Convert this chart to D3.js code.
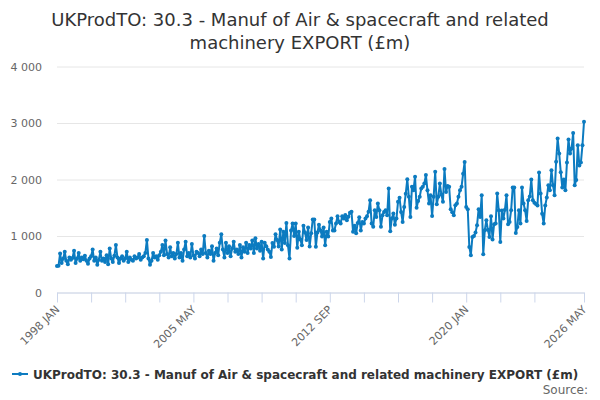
<!DOCTYPE html>
<html>
<head>
<meta charset="utf-8">
<script src="https://cdn.jsdelivr.net/npm/d3@7"></script>
<style>
  body { margin: 0; background: #fff; }
  text { font-family: "DejaVu Sans", sans-serif; }
</style>
</head>
<body>
<div id="chart"></div>
<script>
// Chart text
const titleLines = ["UKProdTO: 30.3 - Manuf of Air & spacecraft and related", "machinery EXPORT (£m)"];
const seriesName = "UKProdTO: 30.3 - Manuf of Air & spacecraft and related machinery EXPORT (£m)";

// Monthly values, 1998 JAN .. 2026 MAY (£m)
const values1998to2003 = [
    470, 475, 690, 520, 600, 720, 560, 500, 620, 580,
    610, 740, 520, 600, 700, 560, 620, 590, 650, 560,
    510, 600, 640, 760, 560, 620, 490, 580, 720, 560,
    600, 540, 660, 500, 780, 600, 540, 650, 840, 620,
    520, 600, 640, 560, 600, 720, 540, 620, 580, 560,
    640, 600, 620, 680, 580, 620, 640, 700, 930, 600,
    490, 560, 700, 620, 640, 580, 660, 720, 840, 660,
    920
];
const values2003to2006 = [
    680, 620, 800, 640, 700, 600, 680, 880, 620, 700,
    560, 760, 900, 640, 700, 620, 860, 660, 600, 720,
    700, 640, 760, 680, 1000, 700, 620, 740, 680, 820,
    560, 700, 780
];
const values2006to2009 = [
    660, 880, 1030, 760, 620, 880, 700, 820, 640, 780,
    900, 720, 760, 680, 840, 620, 800, 720, 880, 700,
    840, 780, 920, 700, 960, 780, 860, 740, 900, 600,
    880, 820, 760
];
const values2009to2014 = [
    720, 630, 878, 808, 1031, 930, 815, 1115, 760, 1074,
    878, 1232, 838, 600, 1098, 1220, 1000, 1220, 790, 1074,
    940, 838, 1180, 1062, 930, 1150, 815, 1050, 1290, 1290,
    808, 1062, 1200, 1100, 990, 1150, 838, 1074, 990, 1250,
    1310, 1098, 1098, 1220, 1350, 1250, 1220, 1350, 1310, 1370,
    1280, 1340, 1410, 1430, 1074, 1180, 1050, 1232, 1330, 1098,
    1250, 1220, 1310, 1350, 1430
];
const values2014to2019 = [
    1634, 1220, 1162, 1456, 1338, 1575, 1456, 1162, 1367, 1426,
    1456, 1367, 1840, 1085, 1308, 1397, 1200, 1308, 1604, 1675,
    1426, 1250, 1515, 1750, 2005, 1693, 1338, 1870, 1810, 2048,
    1500, 1620, 1693, 1840, 1870, 1928, 2078, 1810, 1575, 1722,
    1353, 1693, 2136, 1560, 1693, 1928, 1734, 1604, 2184, 1780,
    1887, 1870, 1474, 1420, 1367, 1545, 1575, 1693, 1810, 1870,
    2100, 2310
];
const values2020to2026 = [
    1515, 1474, 807, 660, 984, 1000, 1060, 1190, 1474, 1338,
    1722, 678, 1103, 1280, 1110, 984, 1350, 938, 1209, 1220,
    1752, 1457, 896, 1450, 1310, 1465, 1722, 1209, 1250, 1457,
    1858, 1858, 1055, 1160, 1457, 1220, 1858, 1575, 1457, 1267,
    1634, 1700, 2000, 1634, 1587, 1565, 1540, 2124, 1752, 1394,
    1220, 1540, 1680, 1900, 1810, 2165, 1900, 1722, 2312, 2725,
    2460, 2130, 1860, 2000, 1810, 2300, 2710, 2460, 2548, 2825,
    1900, 1990, 2607, 2250, 2300, 2607, 3020
];
const values = [].concat(values1998to2003, values2003to2006, values2006to2009,
    values2009to2014, values2014to2019, values2020to2026);

// Axis ticks
const yTicks = [0, 1000, 2000, 3000, 4000];
const xTickLabels = ["1998 JAN", "2005 MAY", "2012 SEP", "2020 JAN", "2026 MAY"];
const xLabelMonths = [0, 88, 176, 264, 340];
const xTickMonths = [0, 22, 44, 66, 88, 110, 132, 154, 176, 198, 220, 242, 264, 286, 308, 340];

// Canvas
const canvWidth = 600, canvHeight = 400;
const margin = {top: 66.5, right: 16, bottom: 107.5, left: 57};
const width = canvWidth - margin.left - margin.right;
const height = canvHeight - margin.top - margin.bottom;

const lineColor = "#0c7bc0";

const svg = d3.select("#chart")
    .append("svg")
    .attr("width", canvWidth)
    .attr("height", canvHeight);

const plot = svg.append("g")
    .attr("transform", `translate(${margin.left},${margin.top})`);

// Scales
const x = d3.scaleLinear()
    .domain([0, values.length - 1])
    .range([0, width]);

const y = d3.scaleLinear()
    .domain([0, 4000])
    .range([height, 0]);

// Thousands with a space, as in the original
const fmt = d3.formatLocale({decimal: ".", thousands: " ", grouping: [3], currency: ["£", ""]}).format(",");

// Title
svg.append("text")
    .attr("x", canvWidth / 2)
    .attr("y", 26)
    .attr("text-anchor", "middle")
    .style("font-size", "18px")
    .style("fill", "#333333")
    .selectAll("tspan")
    .data(titleLines)
    .join("tspan")
    .attr("x", canvWidth / 2)
    .attr("dy", (d, i) => i === 0 ? 0 : 23)
    .text(d => d);

// Gridlines + y labels
const yAxis = plot.append("g")
    .call(d3.axisLeft(y).tickValues(yTicks).tickSize(-width).tickFormat(fmt).tickPadding(15));
yAxis.select(".domain").remove();
yAxis.selectAll(".tick line").attr("stroke", "#e6e6e6");
yAxis.selectAll(".tick text")
    .style("font-size", "11px")
    .style("fill", "#666666")
    .attr("font-family", null);

// X axis
const xAxis = plot.append("g")
    .attr("transform", `translate(0,${height})`)
    .call(d3.axisBottom(x)
        .tickValues(xTickMonths)
        .tickSize(10)
        .tickSizeOuter(0)
        .tickFormat(m => {
            const i = xLabelMonths.indexOf(m);
            return i < 0 ? "" : xTickLabels[i];
        }));
xAxis.select(".domain").attr("stroke", "#ccd6eb");
xAxis.selectAll(".tick line").attr("stroke", "#ccd6eb");
xAxis.selectAll(".tick text")
    .style("font-size", "11px")
    .style("fill", "#666666")
    .attr("font-family", null)
    .attr("text-anchor", "end")
    .attr("dy", "0.35em")
    .attr("transform", "translate(0,15) rotate(-45)")
    .attr("y", 0)
    .attr("x", 0);

// Series line
const line = d3.line()
    .x((d, i) => x(i))
    .y(d => y(d));

plot.append("path")
    .datum(values)
    .attr("fill", "none")
    .attr("stroke", lineColor)
    .attr("stroke-width", 2)
    .attr("stroke-linejoin", "round")
    .attr("d", line);

plot.selectAll("circle.point")
    .data(values)
    .join("circle")
    .attr("class", "point")
    .attr("cx", (d, i) => x(i))
    .attr("cy", d => y(d))
    .attr("r", 2)
    .attr("fill", lineColor);

// Legend
const legend = svg.append("g")
    .attr("transform", "translate(12,374)");
legend.append("line")
    .attr("x1", 0).attr("x2", 16)
    .attr("stroke", lineColor)
    .attr("stroke-width", 2);
legend.append("circle")
    .attr("cx", 8)
    .attr("r", 2)
    .attr("fill", lineColor);
legend.append("text")
    .attr("x", 21)
    .attr("y", 4.5)
    .style("font-size", "12px")
    .style("font-weight", "bold")
    .style("fill", "#333333")
    .text(seriesName);

// Credits
svg.append("text")
    .attr("x", 588)
    .attr("y", 394)
    .attr("text-anchor", "end")
    .style("font-size", "12px")
    .style("fill", "#666666")
    .text("Source:");
</script>
</body>
</html>
